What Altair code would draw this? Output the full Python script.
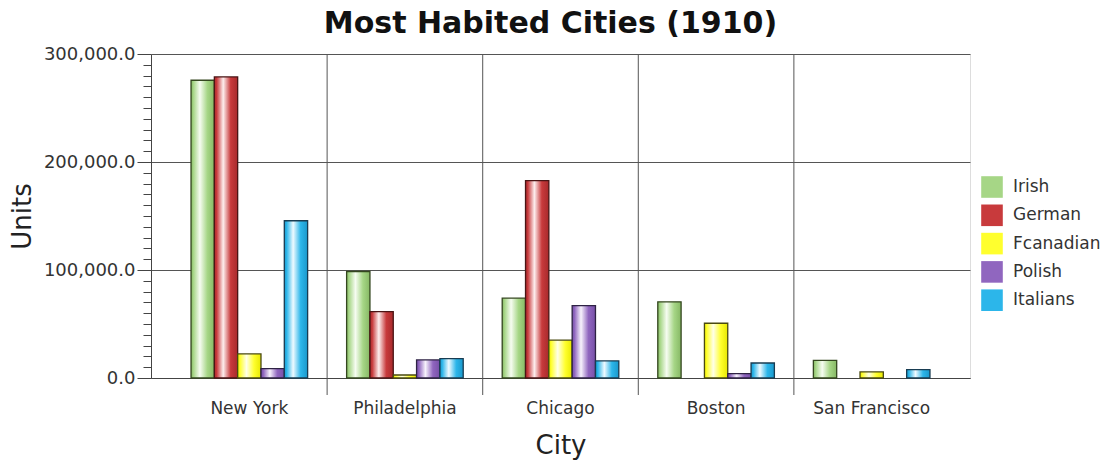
import altair as alt
import pandas as pd

cities = ["New York", "Philadelphia", "Chicago", "Boston", "San Francisco"]
series = ["Irish", "German", "Fcanadian", "Polish", "Italians"]
irish = [275700, 98600, 73900, 70500, 16400]
german = [278800, 61500, 182700, 0, 0]
fcanadian = [22300, 2800, 35000, 50700, 5600]
polish = [8600, 16700, 67000, 4000, 0]
italians = [145600, 17900, 15800, 13900, 7700]

base_colors = ["#a6d686", "#c83a3c", "#ffff2e", "#9066bf", "#2cb6ea"]
light_colors = ["#f6fcf1", "#fdeeee", "#ffffe8", "#f7f2fc", "#effaff"]
dark_colors = ["#86b864", "#a82a2c", "#e8e800", "#7750a8", "#1998cc"]
stroke_colors = ["#34471f", "#4a1414", "#4a4a10", "#2e2244", "#183c52"]

values = [irish, german, fcanadian, polish, italians]
rows = []
for s, vals in zip(series, values):
    for c, v in zip(cities, vals):
        rows.append({"city": c, "series": s, "value": v})
df = pd.DataFrame(rows)
bounds = pd.DataFrame({"city": cities[1:]})

W, H = 819, 324
FONT = "DejaVu Sans"

xscale = alt.Scale(domain=cities, paddingInner=0, paddingOuter=0.132)
yscale = alt.Scale(domain=[0, 300000], nice=False)
xoff = alt.XOffset("series:N", scale=alt.Scale(domain=series, paddingInner=0, paddingOuter=0.836))

xaxis = alt.Axis(title="City", ticks=False, grid=False, labelFontSize=17, labelPadding=22,
                 labelColor="#333333", labelFont=FONT, titleFont=FONT, titleFontSize=26,
                 titleFontWeight="normal", titleColor="#222222", titlePadding=16,
                 domainColor="#444444", labelAngle=0)
yaxis = alt.Axis(
    title="Units",
    values=list(range(0, 300001, 10000)),
    labelExpr="datum.value % 100000 === 0 ? format(datum.value, ',.1f') : ''",
    tickSize={"condition": {"test": "datum.value % 100000 === 0", "value": 14}, "value": 8},
    gridOpacity={"condition": {"test": "datum.value % 100000 === 0", "value": 1}, "value": 0},
    gridColor="#555555",
    tickColor="#444444",
    domainColor="#444444",
    labelFontSize=18, labelColor="#333333", labelFont=FONT, labelPadding=2,
    labelOverlap=False, labelFlush=False,
    titleFont=FONT, titleFontSize=26, titleFontWeight="normal", titleColor="#222222",
    titlePadding=8,
)

rules = alt.Chart(bounds).mark_rule(color="#555555", strokeWidth=1).encode(
    x=alt.X("city:N", bandPosition=0, scale=xscale, axis=xaxis),
    y=alt.value(0),
    y2=alt.value(H + 17),
)

legend_layer = alt.Chart(df).mark_bar(strokeWidth=0).transform_calculate(z="0").encode(
    x=alt.X("city:N", scale=xscale, axis=xaxis),
    xOffset=xoff,
    y=alt.Y("z:Q", scale=yscale, axis=yaxis),
    color=alt.Color("series:N", scale=alt.Scale(domain=series, range=base_colors),
                    legend=alt.Legend(title=None, orient="none", legendX=830, legendY=122,
                                      symbolType="square", symbolSize=466, symbolStrokeWidth=0,
                                      labelFontSize=17, labelFont=FONT, labelColor="#333333",
                                      labelOffset=10, rowPadding=6.3)),
)

layers = [rules, legend_layer]
for s, b, l, d, st in zip(series, base_colors, light_colors, dark_colors, stroke_colors):
    grad = alt.Gradient(
        gradient="linear",
        stops=[alt.GradientStop(color=d, offset=0),
               alt.GradientStop(color=b, offset=0.1),
               alt.GradientStop(color=l, offset=0.38),
               alt.GradientStop(color=b, offset=0.7),
               alt.GradientStop(color=d, offset=1)],
        x1=0, x2=1, y1=0, y2=0,
    )
    layer = alt.Chart(df).transform_filter(
        (alt.datum.series == s) & (alt.datum.value > 0)
    ).mark_bar(fill=grad, stroke=st, strokeWidth=1.3).encode(
        x=alt.X("city:N", scale=xscale, axis=xaxis),
        xOffset=xoff,
        y=alt.Y("value:Q", scale=yscale, axis=yaxis),
    )
    layers.append(layer)

chart = alt.layer(*layers).properties(
    width=W, height=H,
    title=alt.Title("Most Habited Cities (1910)", font=FONT, fontSize=30, fontWeight="bold",
                    color="#111111", anchor="middle", dx=-10, offset=6),
    autosize=alt.AutoSizeParams(type="none"),
    padding={"left": 151, "top": 54, "right": 137, "bottom": 87},
).configure_view(stroke="#444444", strokeWidth=1).configure(background="white")

chart.save("out.html", embed_options={"renderer": "svg", "actions": False})
